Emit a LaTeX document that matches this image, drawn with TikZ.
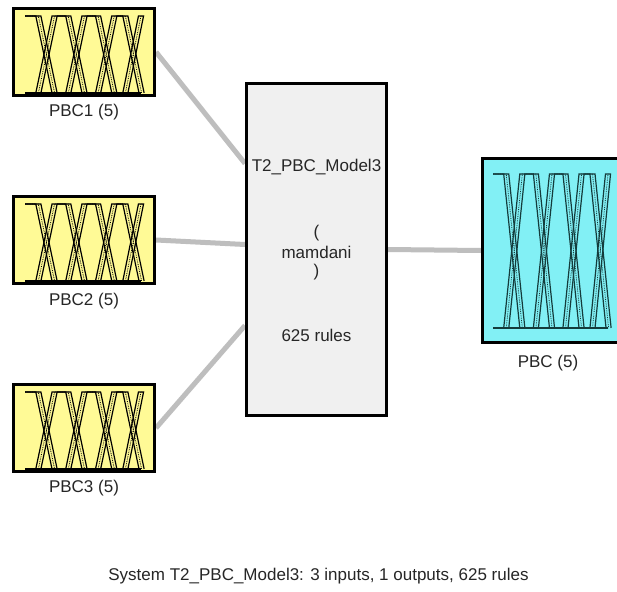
\documentclass[tikz,border=0pt]{standalone}
\usepackage{fontspec}
\setmainfont{Liberation Sans}
\usetikzlibrary{calc}
\pgfdeclarelayer{bg}
\pgfsetlayers{bg,main}
\definecolor{inyellow}{RGB}{255,250,150}
\definecolor{outcyan}{RGB}{130,240,245}
\definecolor{sysgray}{RGB}{240,240,240}
\definecolor{connGray}{RGB}{190,190,190}
\definecolor{mfteal}{RGB}{20,60,60}
\newcommand\mfpaths[1]{%
  \draw (0,-1) -- ({0.115+#1},-1) -- ({0.255+#1},0);
  \draw ({0.115-#1},0) -- ({0.255-#1},-1) -- ({0.373+#1},-1) -- ({0.513+#1},0);
  \draw ({0.373-#1},0) -- ({0.513-#1},-1) -- ({0.630+#1},-1) -- ({0.770+#1},0);
  \draw ({0.630-#1},0) -- ({0.770-#1},-1) -- ({0.865+#1},-1) -- ({1.005+#1},0);
  \draw ({0.865-#1},0) -- ({1.000-#1},-1) -- (1,-1);
}
\newcommand\mfset[5]{% left, right, top, base, colour
  \begin{scope}[shift={(#1,#4)}, xscale={#2-#1}, yscale={#4-#3}, draw=#5]
    \begin{scope}[line width=1.2pt]
      \mfpaths{0.022}
      \mfpaths{-0.022}
    \end{scope}
    \begin{scope}[line width=0.8pt, densely dotted]
      \mfpaths{0}
    \end{scope}
    \draw[line width=1.2pt] (0,0) -- (1,0);
  \end{scope}
}
\tikzset{
  inbox/.style={draw=black, line width=3pt, fill=inyellow, minimum width=141pt, minimum height=87pt, inner sep=0pt},
  outbox/.style={draw=black, line width=3pt, fill=outcyan, minimum width=136pt, minimum height=184pt, inner sep=0pt},
  sysbox/.style={draw=black, line width=3pt, fill=sysgray, minimum width=140pt, minimum height=332pt, inner sep=0pt},
  lbl/.style={font=\fontsize{17}{20}\selectfont, inner sep=0pt, text=black!85},
  conn/.style={draw=connGray, line width=5pt}
}
\begin{document}
\begin{tikzpicture}[x=1pt, y=-1pt]
\clip (0,0) rectangle (617,591);
\begin{pgfonlayer}{bg}
\fill[white] (0,0) rectangle (617,591);
\end{pgfonlayer}
% boxes
\node[inbox] (in1) at (84,52) {};
\node[inbox] (in2) at (84,240) {};
\node[inbox] (in3) at (84,428) {};
\node[sysbox] (sys) at (316.5,249.5) {};
\node[outbox] (out) at (550.5,250.5) {};
% membership functions
\mfset{25}{141}{16}{93}{black}
\mfset{25}{141}{204}{281}{black}
\mfset{25}{141}{392}{469}{black}
\mfset{493}{608}{174}{328}{mfteal}
% labels
\node[lbl] (l1) at (84,112) {PBC1 (5)};
\node[lbl] (l2) at (84,301) {PBC2 (5)};
\node[lbl] (l3) at (84,488) {PBC3 (5)};
\node[lbl] (lo) at (548,363) {PBC (5)};
\node[lbl] (s1) at (316.5,167) {T2\_PBC\_Model3};
\node[lbl] (s2) at (316.5,233) {(};
\node[lbl] (s3) at (316.5,252) {mamdani};
\node[lbl] (s4) at (316.5,272) {)};
\node[lbl] (s5) at (316.5,335) {625 rules};
\node[lbl] (cap) at (318.5,576) {System T2\_PBC\_Model3: 3 inputs, 1 outputs, 625 rules};
% connectors
\path (sys.west) ++(0,-86) coordinate (t1);
\path (sys.west) ++(0,-5) coordinate (t2);
\path (sys.west) ++(0,76) coordinate (t3);
\begin{pgfonlayer}{bg}
\draw[conn] (in1.east) -- (t1);
\draw[conn] (in2.east) -- (t2);
\draw[conn] (in3.east) -- (t3);
\draw[conn] (sys.east) -- (out.west);
\end{pgfonlayer}
\end{tikzpicture}
\end{document}
